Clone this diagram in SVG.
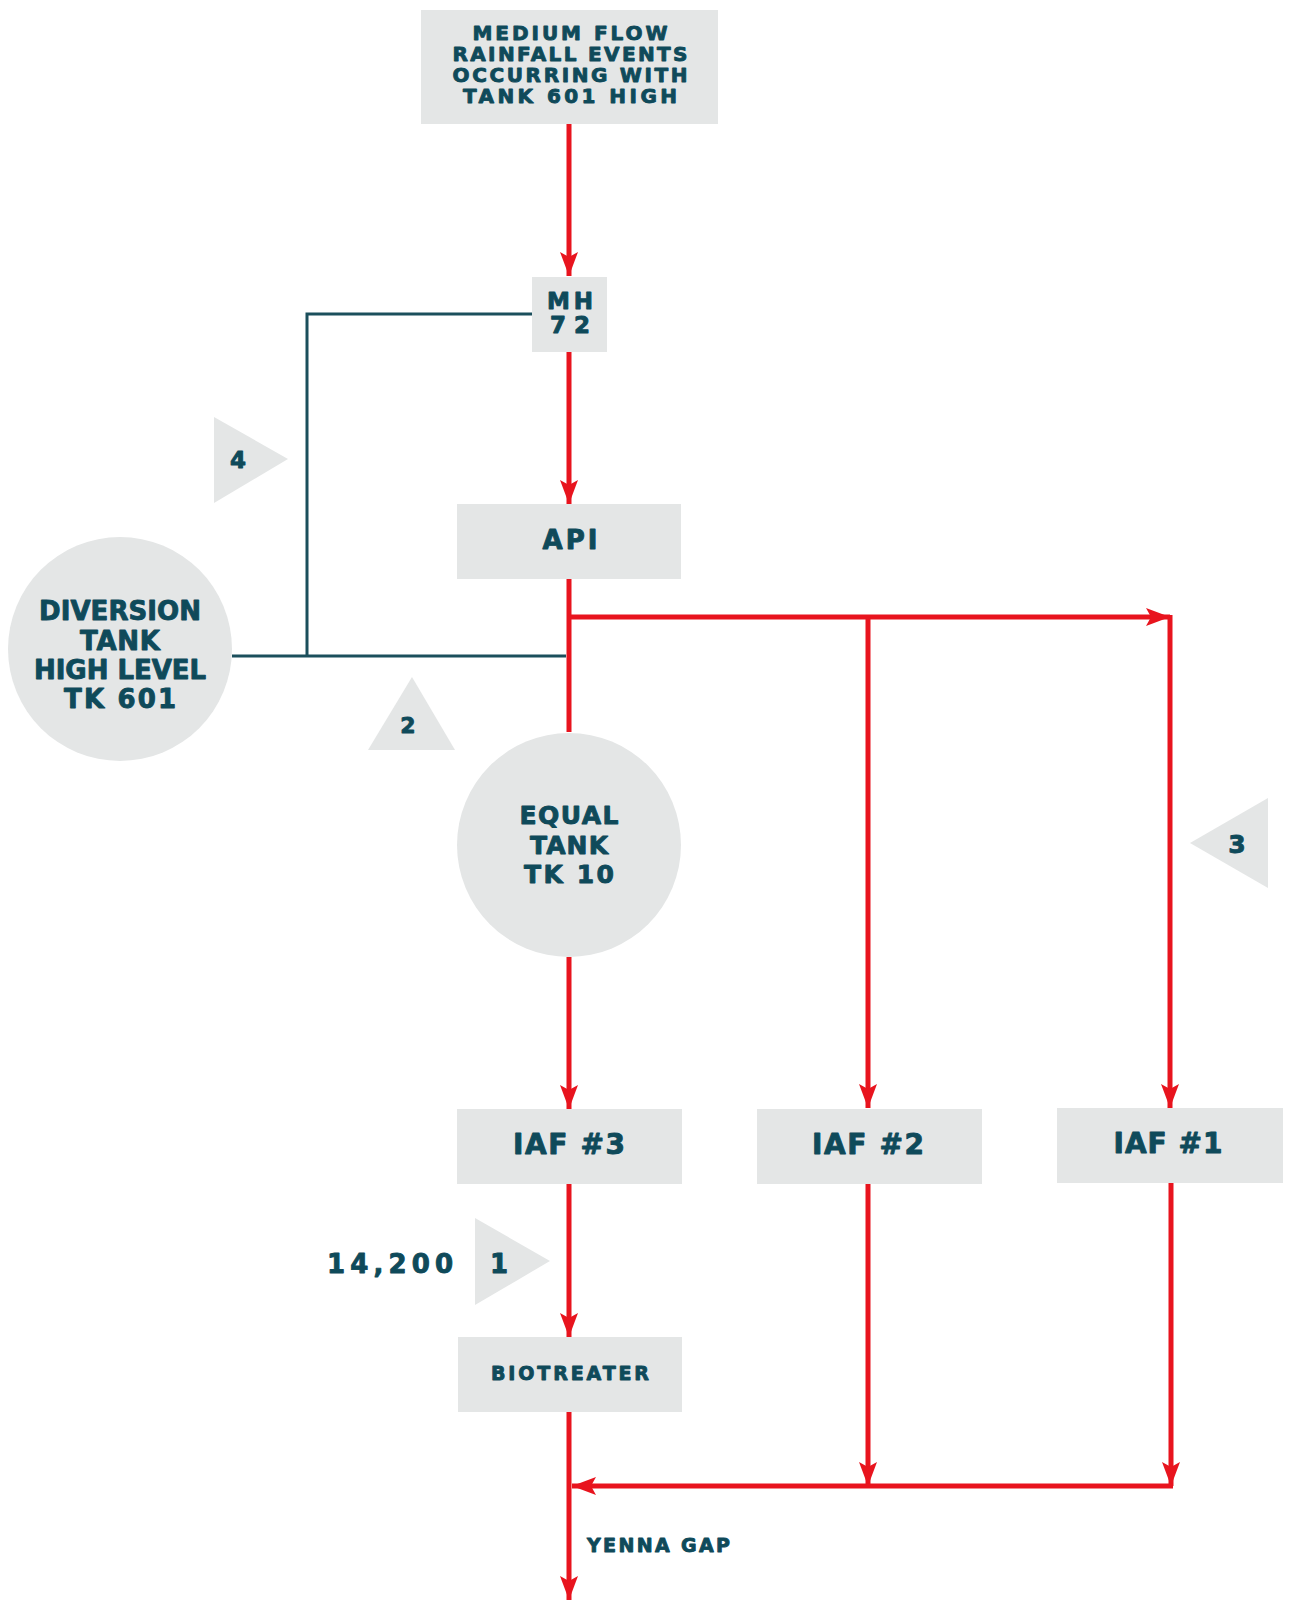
<svg xmlns="http://www.w3.org/2000/svg" width="1289" height="1602" viewBox="0 0 1289 1602">
  <defs>
    <style>
      .box { fill: #e4e6e6; }
      .tri { fill: #e4e6e6; }
      .lbl { font-family: "DejaVu Sans", Lato, sans-serif; font-weight: bold; fill: #0f4a5a; stroke: #0f4a5a; stroke-width: 0.9; stroke-linejoin: round; text-anchor: middle; }
      .start { text-anchor: start; }
      .flow { stroke: #e8141e; stroke-width: 5; fill: none; }
      .flow-arrow { stroke: #e8141e; stroke-width: 5; fill: none; marker-end: url(#arrow); }
      .bypass { stroke: #1b4f5c; stroke-width: 3; fill: none; }
    </style>
    <marker id="arrow" markerUnits="userSpaceOnUse" markerWidth="24" markerHeight="18" viewBox="0 0 24 18" refX="24" refY="9" orient="auto">
      <path d="M0,0 L24,9 L0,18 L5,9 z" fill="#e8141e"/>
    </marker>
  </defs>

  <rect width="1289" height="1602" fill="#ffffff"/>

  <!-- connectors -->
  <g id="connectors">
    <!-- diversion line (teal) -->
    <path class="bypass" d="M232,656 L566,656"/>
    <path class="bypass" d="M307,656 L307,314 L532,314"/>
    <!-- main flow -->
    <line class="flow-arrow" x1="569" y1="124" x2="569" y2="276"/>
    <line class="flow-arrow" x1="569" y1="352" x2="569" y2="504"/>
    <line class="flow" x1="569" y1="579" x2="569" y2="732"/>
    <line class="flow-arrow" x1="569" y1="957" x2="569" y2="1109"/>
    <line class="flow-arrow" x1="569" y1="1184" x2="569" y2="1337"/>
    <line class="flow-arrow" x1="569" y1="1411" x2="569" y2="1600"/>
    <!-- split to IAF #2 / IAF #1 -->
    <line class="flow-arrow" x1="567" y1="617" x2="1170" y2="617"/>
    <line class="flow-arrow" x1="868" y1="615" x2="868" y2="1108"/>
    <line class="flow-arrow" x1="1170" y1="615" x2="1170" y2="1108"/>
    <!-- returns from IAF #2 / IAF #1 -->
    <line class="flow-arrow" x1="868" y1="1184" x2="868" y2="1486"/>
    <line class="flow-arrow" x1="1171" y1="1183" x2="1171" y2="1486"/>
    <line class="flow-arrow" x1="1173" y1="1486" x2="572" y2="1486"/>
  </g>

  <!-- nodes -->
  <g id="node-rainfall">
    <rect class="box" x="421" y="10" width="297" height="114"/>
    <text class="lbl" font-size="20" x="570" y="40" textLength="195" lengthAdjust="spacing">MEDIUM FLOW</text>
    <text class="lbl" font-size="20" x="570" y="61" textLength="235" lengthAdjust="spacing">RAINFALL EVENTS</text>
    <text class="lbl" font-size="20" x="570" y="82" textLength="235" lengthAdjust="spacing">OCCURRING WITH</text>
    <text class="lbl" font-size="20" x="570" y="103" textLength="214" lengthAdjust="spacing">TANK 601 HIGH</text>
  </g>

  <g id="node-mh72">
    <rect class="box" x="532" y="277" width="75" height="75"/>
    <text class="lbl" font-size="23" x="570" y="309" textLength="46" lengthAdjust="spacing">MH</text>
    <text class="lbl" font-size="23" x="570" y="333" textLength="40" lengthAdjust="spacing">72</text>
  </g>

  <g id="node-api">
    <rect class="box" x="457" y="504" width="224" height="75"/>
    <text class="lbl" font-size="26" x="570" y="549" textLength="55" lengthAdjust="spacing">API</text>
  </g>

  <g id="node-diversion-tank">
    <circle class="box" cx="120" cy="649" r="112"/>
    <text class="lbl" font-size="26" x="120" y="620" textLength="162" lengthAdjust="spacing">DIVERSION</text>
    <text class="lbl" font-size="26" x="120" y="650" textLength="80" lengthAdjust="spacing">TANK</text>
    <text class="lbl" font-size="26" x="120" y="679" textLength="172" lengthAdjust="spacing">HIGH LEVEL</text>
    <text class="lbl" font-size="26" x="120" y="708" textLength="112" lengthAdjust="spacing">TK 601</text>
  </g>

  <g id="node-equal-tank">
    <circle class="box" cx="569" cy="845" r="112"/>
    <text class="lbl" font-size="25" x="569" y="824" textLength="99" lengthAdjust="spacing">EQUAL</text>
    <text class="lbl" font-size="25" x="569" y="854" textLength="78" lengthAdjust="spacing">TANK</text>
    <text class="lbl" font-size="25" x="569" y="883" textLength="90" lengthAdjust="spacing">TK 10</text>
  </g>

  <g id="node-iaf3">
    <rect class="box" x="457" y="1109" width="225" height="75"/>
    <text class="lbl" font-size="28" x="569" y="1154" textLength="112" lengthAdjust="spacing">IAF #3</text>
  </g>

  <g id="node-iaf2">
    <rect class="box" x="757" y="1109" width="225" height="75"/>
    <text class="lbl" font-size="28" x="868" y="1154" textLength="112" lengthAdjust="spacing">IAF #2</text>
  </g>

  <g id="node-iaf1">
    <rect class="box" x="1057" y="1108" width="226" height="75"/>
    <text class="lbl" font-size="28" x="1168" y="1153" textLength="109" lengthAdjust="spacing">IAF #1</text>
  </g>

  <g id="node-biotreater">
    <rect class="box" x="458" y="1337" width="224" height="75"/>
    <text class="lbl" font-size="19" x="570" y="1380" textLength="158" lengthAdjust="spacing">BIOTREATER</text>
  </g>

  <g id="node-yenna-gap">
    <text class="lbl start" font-size="19" x="587" y="1552" textLength="143" lengthAdjust="spacing">YENNA GAP</text>
  </g>

  <!-- numbered markers -->
  <g id="marker-4">
    <polygon class="tri" points="214,417 288,459 214,503"/>
    <text class="lbl" font-size="23" x="238" y="468">4</text>
  </g>
  <g id="marker-2">
    <polygon class="tri" points="368,750 412,677 455,750"/>
    <text class="lbl" font-size="22" x="408" y="733">2</text>
  </g>
  <g id="marker-3">
    <polygon class="tri" points="1268,798 1190,843 1268,888"/>
    <text class="lbl" font-size="25" x="1237" y="853">3</text>
  </g>
  <g id="marker-1">
    <polygon class="tri" points="475,1218 550,1261 475,1305"/>
    <text class="lbl" font-size="26" x="499" y="1273">1</text>
    <text class="lbl start" font-size="26" x="327" y="1273" textLength="126" lengthAdjust="spacing">14,200</text>
  </g>
</svg>
